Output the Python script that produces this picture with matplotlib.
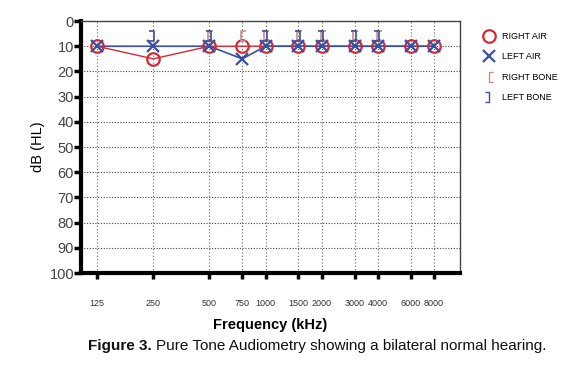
import matplotlib
matplotlib.use("Agg")
import matplotlib.pyplot as plt
from matplotlib.path import Path
from matplotlib.lines import Line2D
import numpy as np

plt.rcParams['font.family'] = ['Liberation Sans', 'DejaVu Sans']

freqs = [125, 250, 500, 750, 1000, 1500, 2000, 3000, 4000, 6000, 8000]
freq_labels = ['125', '250', '500', '750', '1000', '1500', '2000', '3000', '4000', '6000', '8000']
right_air = [10, 15, 10, 10, 10, 10, 10, 10, 10, 10, 10]
left_air = [10, 10, 10, 15, 10, 10, 10, 10, 10, 10, 10]
right_bone_freqs = [500, 750, 1000, 1500, 2000, 3000, 4000]
right_bone = [10, 10, 10, 10, 10, 10, 10]
left_bone_freqs = [250, 500, 1000, 1500, 2000, 3000, 4000]
left_bone = [10, 10, 10, 10, 10, 10, 10]
y_ticks = [0, 10, 20, 30, 40, 50, 60, 70, 80, 90, 100]

RED = '#d42a33'
BLUE = '#3b4f9e'
PINK = '#c98a8a'

rb_path = Path([(0.3, 0.35), (0.0, 0.35), (0.0, 1.0), (0.3, 1.0)],
               [Path.MOVETO, Path.LINETO, Path.LINETO, Path.LINETO])
lb_path = Path([(-0.3, 0.35), (0.0, 0.35), (0.0, 1.0), (-0.3, 1.0)],
               [Path.MOVETO, Path.LINETO, Path.LINETO, Path.LINETO])
rb_leg = Path([(0.4, -0.5), (0.0, -0.5), (0.0, 0.5), (0.4, 0.5)],
              [Path.MOVETO, Path.LINETO, Path.LINETO, Path.LINETO])
lb_leg = Path([(-0.4, -0.5), (0.0, -0.5), (0.0, 0.5), (-0.4, 0.5)],
              [Path.MOVETO, Path.LINETO, Path.LINETO, Path.LINETO])

fig = plt.figure(figsize=(5.8, 3.69), dpi=100)
ax = fig.add_axes([0.1397, 0.260, 0.6533, 0.683])
ax.set_xscale('log')
ax.set_xlim(125 * 2 ** (-0.285), 8000 * 2 ** 0.46)
ax.set_ylim(100, 0)

ax.set_xticks(freqs)
ax.set_xticklabels(freq_labels)
ax.xaxis.set_minor_locator(matplotlib.ticker.NullLocator())
ax.set_yticks(y_ticks)

for f in freqs:
    ax.axvline(f, color='#666666', lw=0.8, ls=(0, (1, 2)), zorder=1)
for y in y_ticks[1:-1]:
    ax.axhline(y, color='#444444', lw=0.8, ls=(0, (1, 1.5)), zorder=1)

ax.plot(freqs, right_air, color=RED, lw=1.0, zorder=2)
ax.plot(freqs, left_air, color=BLUE, lw=1.2, zorder=3)
ax.plot(freqs, right_air, ls='none', marker='o', ms=9, mfc='none', mec=RED, mew=1.6, zorder=4)
ax.plot(freqs, left_air, ls='none', marker='x', ms=9, mec=BLUE, mew=1.6, zorder=5)
ax.plot(np.array(right_bone_freqs) * 0.985, right_bone, ls='none', marker=rb_path, ms=22,
        mfc='none', mec=PINK, mew=1.2, zorder=4)
ax.plot(np.array(left_bone_freqs) * 1.015, left_bone, ls='none', marker=lb_path, ms=22,
        mfc='none', mec=BLUE, mew=1.2, zorder=4)

for s in ['left', 'bottom']:
    ax.spines[s].set_linewidth(3)
    ax.spines[s].set_color('black')
for s in ['top', 'right']:
    ax.spines[s].set_linewidth(1.0)
    ax.spines[s].set_color('#444444')

ax.tick_params(axis='y', length=5, width=2.5, labelsize=10.5, labelcolor='#444444', pad=0)
ax.tick_params(axis='x', length=4, width=2.5, labelsize=6.5, labelcolor='#333333', pad=15)

ax.set_xlabel('Frequency (kHz)', fontsize=10.5, fontweight='bold', labelpad=7)
ax.set_ylabel('dB (HL)', fontsize=10.5, labelpad=3)

handles = [
    Line2D([], [], ls='none', marker='o', ms=9, mfc='none', mec=RED, mew=1.6),
    Line2D([], [], ls='none', marker='x', ms=9, mec=BLUE, mew=1.6),
    Line2D([], [], ls='none', marker=rb_leg, ms=7, mfc='none', mec=PINK, mew=1.0),
    Line2D([], [], ls='none', marker=lb_leg, ms=7, mfc='none', mec=BLUE, mew=1.0),
]
labels = ['RIGHT AIR', 'LEFT AIR', 'RIGHT BONE', 'LEFT BONE']
fig.legend(handles, labels, loc='upper left', bbox_to_anchor=(0.818, 0.935),
           frameon=False, fontsize=6.5, handletextpad=0.7, labelspacing=1.25,
           handlelength=1.5)

# caption: bold part then regular part
fig.canvas.draw()
renderer = fig.canvas.get_renderer()
t1 = fig.text(88 / 580, 0.062, 'Figure 3.', ha='left', va='center', fontsize=11,
              fontweight='bold', color='#111111')
bb = t1.get_window_extent(renderer)
fig.text((bb.x1 + 4) / fig.bbox.width, 0.062,
         'Pure Tone Audiometry showing a bilateral normal hearing.',
         ha='left', va='center', fontsize=11, color='#111111')

fig.savefig('out.png', dpi=100)
